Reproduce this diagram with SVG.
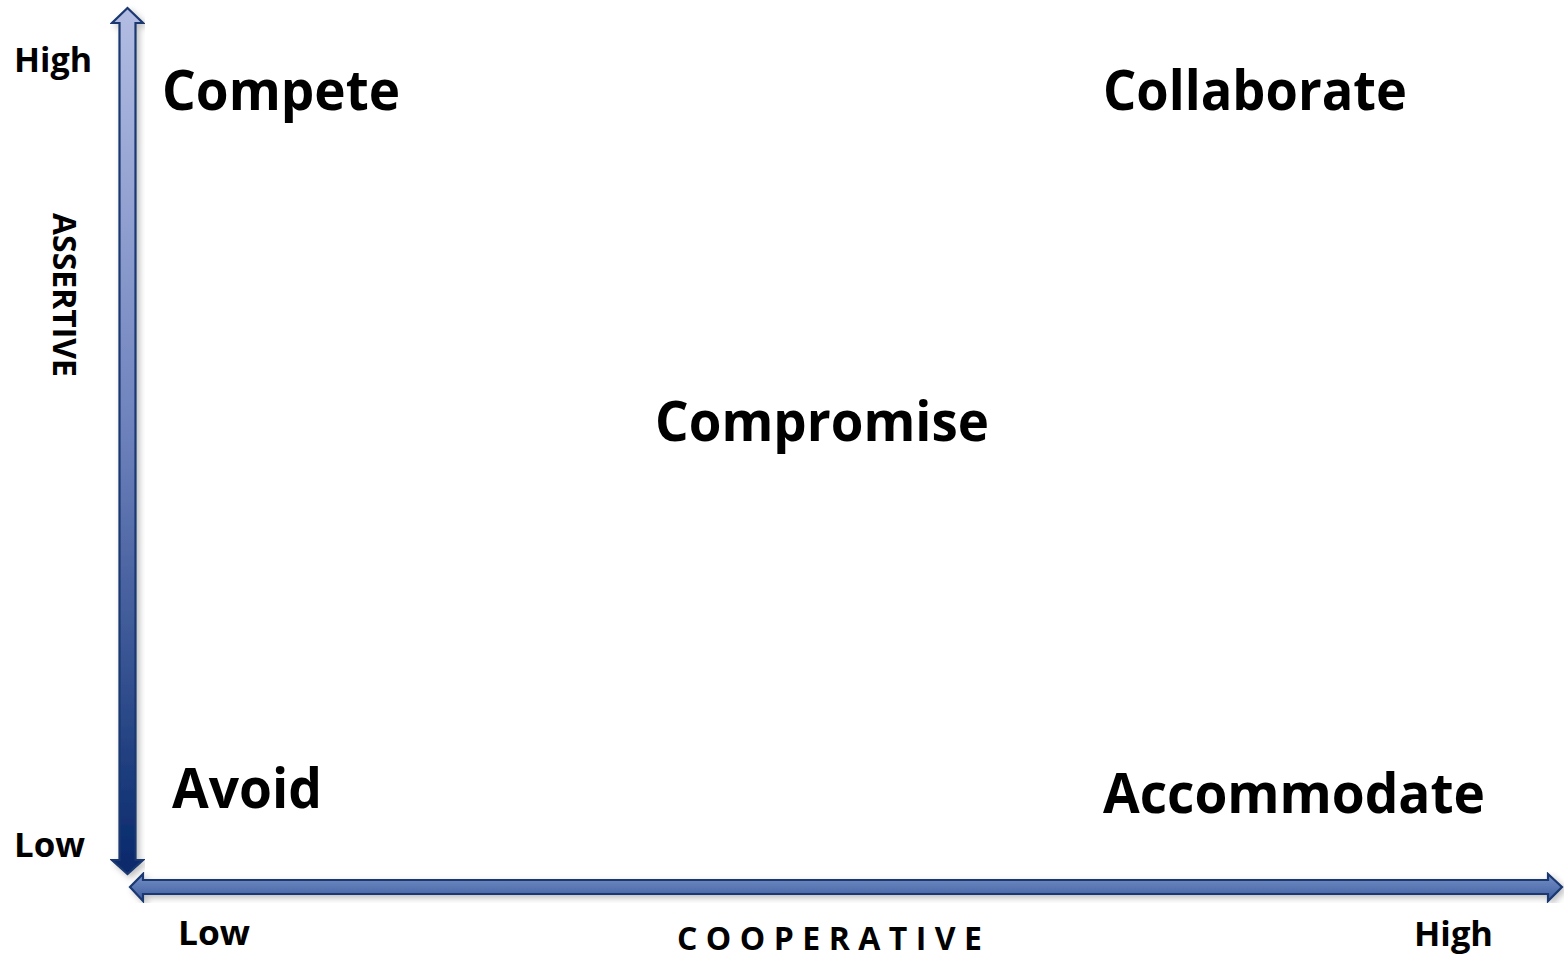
<svg xmlns="http://www.w3.org/2000/svg" width="1564" height="956" viewBox="0 0 1564 956">
<style>
text{font-family:"Open Sans","Liberation Sans",sans-serif;font-weight:700;fill:#000}
.big{font-size:56px}
.lvl{font-size:34px}
.axis{font-size:32px}
.arrow{stroke:#1a3770;stroke-width:2.2;stroke-linejoin:miter}
</style>
<defs>
<linearGradient id="gv" x1="0" y1="0" x2="0" y2="1">
<stop offset="0" stop-color="#b3bde3"/>
<stop offset="0.5" stop-color="#6b80bb"/>
<stop offset="1" stop-color="#06286a"/>
</linearGradient>
<linearGradient id="gh" x1="0" y1="0" x2="0" y2="1">
<stop offset="0" stop-color="#7690c8"/>
<stop offset="1" stop-color="#3f5e9f"/>
</linearGradient>
<filter id="sh" x="-5%" y="-5%" width="110%" height="110%">
<feDropShadow dx="3" dy="3" stdDeviation="3" flood-color="#000" flood-opacity="0.25"/>
</filter>
</defs>
<rect width="1564" height="956" fill="#fff"/>
<g id="connectors">
<path class="arrow" filter="url(#sh)" fill="url(#gv)" d="M127.5,8 L143,23 L135.5,23 L135.5,860 L143,860 L127.5,874 L112,860 L119.5,860 L119.5,23 L112,23 Z"/>
<path class="arrow" filter="url(#sh)" fill="url(#gh)" d="M130,887 L143,874 L143,880 L1548,880 L1548,874 L1562,887 L1548,901 L1548,894 L143,894 L143,901 Z"/>
</g>
<g id="axis-assertive"><text class="axis" transform="translate(53,213) rotate(90)" x="0" y="0" textLength="164" lengthAdjust="spacingAndGlyphs">ASSERTIVE</text></g>
<g id="axis-cooperative"><text class="axis" x="677" y="950" textLength="305" lengthAdjust="spacing">COOPERATIVE</text></g>
<g id="label-high-y"><text class="lvl" x="14" y="72" textLength="78" lengthAdjust="spacingAndGlyphs">High</text></g>
<g id="label-low-y"><text class="lvl" x="14" y="857" textLength="71" lengthAdjust="spacingAndGlyphs">Low</text></g>
<g id="label-low-x"><text class="lvl" x="178" y="945" textLength="72" lengthAdjust="spacingAndGlyphs">Low</text></g>
<g id="label-high-x"><text class="lvl" x="1414" y="946" textLength="79" lengthAdjust="spacingAndGlyphs">High</text></g>
<g id="node-compete"><text class="big" x="162" y="110" textLength="238" lengthAdjust="spacingAndGlyphs">Compete</text></g>
<g id="node-collaborate"><text class="big" x="1103" y="110" textLength="304" lengthAdjust="spacingAndGlyphs">Collaborate</text></g>
<g id="node-compromise"><text class="big" x="655" y="441" textLength="334" lengthAdjust="spacingAndGlyphs">Compromise</text></g>
<g id="node-avoid"><text class="big" x="172" y="808" textLength="150" lengthAdjust="spacingAndGlyphs">Avoid</text></g>
<g id="node-accommodate"><text class="big" x="1103" y="813" textLength="382" lengthAdjust="spacingAndGlyphs">Accommodate</text></g>
</svg>
